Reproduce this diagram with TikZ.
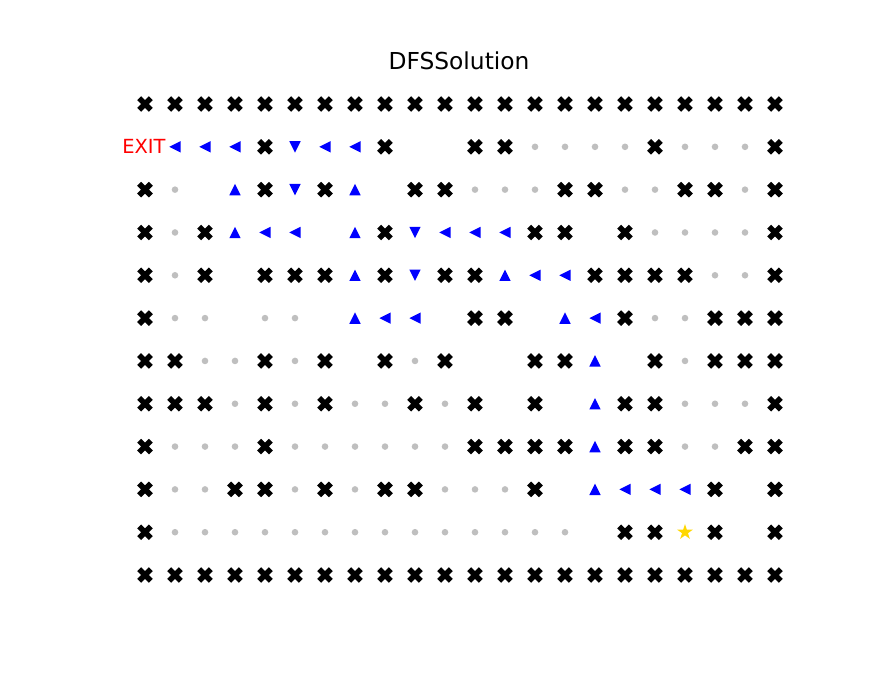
\documentclass[tikz,border=0pt]{standalone}
\usepackage{fontspec}
\setmainfont{DejaVu Sans}
\definecolor{goldc}{RGB}{255,215,0}
\definecolor{dotc}{RGB}{191,191,191}
\definecolor{pathc}{RGB}{0,0,255}
\begin{document}
\begin{tikzpicture}[x=0.5143pt,y=-0.5143pt]
\tikzset{
  wallmark/.pic={\fill[black,scale=3.9] (-1,-2)--(0,-1)--(1,-2)--(2,-1)--(1,0)--(2,1)--(1,2)--(0,1)--(-1,2)--(-2,1)--(-1,0)--(-2,-1)--cycle;},
  dotmark/.pic={\fill[dotc] (0,0) circle (3.3);},
  leftmark/.pic={\fill[pathc] (-5.7,0)--(5.7,-5.7)--(5.7,5.7)--cycle;},
  upmark/.pic={\fill[pathc] (0,-5.7)--(-5.7,5.7)--(5.7,5.7)--cycle;},
  downmark/.pic={\fill[pathc] (0,5.7)--(-5.7,-5.7)--(5.7,-5.7)--cycle;},
  starmark/.pic={\fill[goldc] (-90:8.2)--(-54:3.13)--(-18:8.2)--(18:3.13)--(54:8.2)--(90:3.13)--(126:8.2)--(162:3.13)--(198:8.2)--(234:3.13)--cycle;},
  lbl/.style={inner sep=0pt}
}
\useasboundingbox (0,0) rectangle (896,672);
\node[lbl,anchor=base,font=\fontsize{12}{14}\selectfont] (title) at (459,69.5) {DFSSolution};
\node[lbl,text=red,font=\fontsize{10}{12}\selectfont] (exit) at (144,146.5) {EXIT};
% walls
\foreach \r in {0,11} {\foreach \c in {0,...,21} {\pic at ({145+30*\c},{104+42.82*\r}) {wallmark};}}
\foreach \r/\cols in {1/{4,8,11,12,17,21},
  2/{0,4,6,9,10,14,15,18,19,21},
  3/{0,2,8,13,14,16,21},
  4/{0,2,4,5,6,8,10,11,15,16,17,18,21},
  5/{0,11,12,16,19,20,21},
  6/{0,1,4,6,8,10,13,14,17,19,20,21},
  7/{0,1,2,4,6,9,11,13,16,17,21},
  8/{0,4,11,12,13,14,16,17,20,21},
  9/{0,3,4,6,8,9,13,19,21},
  10/{0,16,17,19,21}}
  {\foreach \c in \cols {\pic at ({145+30*\c},{104+42.82*\r}) {wallmark};}}
% open cells
\foreach \r/\cols in {1/{13,14,15,16,18,19,20},
  2/{1,11,12,13,16,17,20},
  3/{1,17,18,19,20},
  4/{1,19,20},
  5/{1,2,4,5,17,18},
  6/{2,3,5,9,18},
  7/{3,5,7,8,10,18,19,20},
  8/{1,2,3,5,6,7,8,9,10,18,19},
  9/{1,2,5,7,10,11,12},
  10/{1,2,3,4,5,6,7,8,9,10,11,12,13,14}}
  {\foreach \c in \cols {\pic at ({145+30*\c},{104+42.82*\r}) {dotmark};}}
% path markers
\foreach \r/\cols in {1/{1,2,3,6,7}, 3/{4,5,10,11,12}, 4/{13,14}, 5/{8,9,15}, 9/{16,17,18}}
  {\foreach \c in \cols {\pic at ({145+30*\c},{104+42.82*\r}) {leftmark};}}
\foreach \r/\cols in {2/{3,7}, 3/{3,7}, 4/{7,12}, 5/{7,14}, 6/{15}, 7/{15}, 8/{15}, 9/{15}}
  {\foreach \c in \cols {\pic at ({145+30*\c},{104+42.82*\r}) {upmark};}}
\foreach \r/\cols in {1/{5}, 2/{5}, 3/{9}, 4/{9}}
  {\foreach \c in \cols {\pic at ({145+30*\c},{104+42.82*\r}) {downmark};}}
\pic at ({145+30*18},{104+42.82*10}) {starmark};
\end{tikzpicture}
\end{document}
